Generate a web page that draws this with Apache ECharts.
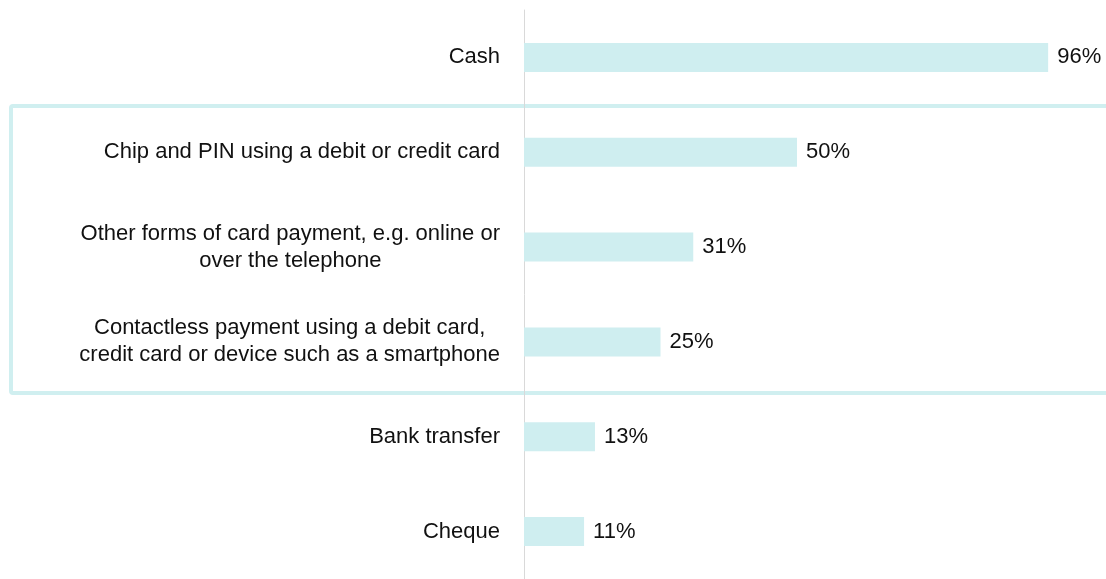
<!DOCTYPE html>
<html>
<head>
<meta charset="utf-8">
<script src="https://cdn.jsdelivr.net/npm/echarts@6/dist/echarts.min.js"></script>
<style>
  html, body { margin: 0; padding: 0; background: #fff; }
  #chart { width: 1106px; height: 579px; }
</style>
</head>
<body>
<div id="chart"></div>
<script>
// chart data
var categories = [
  'Cash',
  'Chip and PIN using a debit or credit card',
  'Other forms of card payment, e.g. online or\nover the telephone',
  'Contactless payment using a debit card,\ncredit card or device such as a smartphone',
  'Bank transfer',
  'Cheque'
];
var values = [96, 50, 31, 25, 13, 11];

var myChart = echarts.init(document.getElementById('chart'));

var option = {
  animation: false,
  textStyle: { fontFamily: 'Liberation Sans, Arial, sans-serif' },
  grid: { left: 524, right: 36, top: 10, bottom: 0, containLabel: false },
  xAxis: {
    type: 'value',
    min: 0,
    max: 100,
    show: false
  },
  yAxis: {
    type: 'category',
    inverse: true,
    data: categories,
    axisLine: { show: true, lineStyle: { color: '#d9d9d9', width: 1 } },
    axisTick: { show: false },
    axisLabel: {
      margin: 24,
      color: '#111',
      fontSize: 22,
      lineHeight: 27,
      formatter: function (v) {
        // each line centred inside the block
        return v.split('\n').map(function (s) { return '{c|' + s + '}'; }).join('\n');
      },
      rich: {
        c: { align: 'center', fontSize: 22, lineHeight: 27, color: '#111' }
      }
    }
  },
  graphic: [{
    type: 'rect',
    z: -10,
    shape: { x: 11, y: 106, width: 1110, height: 287, r: 2 },
    style: { fill: 'none', stroke: '#d0eff0', lineWidth: 4 }
  }],
  series: [{
    type: 'bar',
    data: values,
    barWidth: 29,
    itemStyle: { color: '#cfeef0' },
    label: {
      show: true,
      position: 'right',
      distance: 9,
      color: '#111',
      fontSize: 22,
      formatter: '{c}%'
    }
  }]
};

myChart.setOption(option);
</script>
</body>
</html>
